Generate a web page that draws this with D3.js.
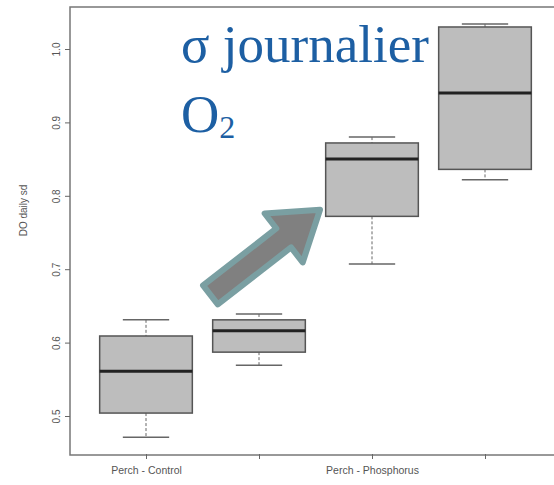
<!DOCTYPE html>
<html>
<head>
<meta charset="utf-8">
<script src="https://cdn.jsdelivr.net/npm/d3@7"></script>
<style>
  body { margin: 0; background: #fff; }
  svg { display: block; }
  .tick text { font-family: "Liberation Sans", Arial, sans-serif; fill: #555; }
</style>
</head>
<body>
<div id="chart"></div>
<script>
// groups along x (R boxplot positions 1..4), only some labels drawn
var groups = ["Perch - Control", "", "Perch - Phosphorus", ""];
var positions = [1, 2, 3, 4];
// five-number summaries
var whiskLow  = [0.471, 0.569, 0.707, 0.822];
var q1        = [0.504, 0.587, 0.772, 0.836];
var medians   = [0.561, 0.616, 0.850, 0.940];
var q3        = [0.609, 0.631, 0.872, 1.030];
var whiskHigh = [0.631, 0.639, 0.880, 1.034];
var yTicks = [0.5, 0.6, 0.7, 0.8, 0.9, 1.0];

var W = 554, H = 485;
var margin = {left: 70, top: 7, bottom: 30};

var x = d3.scaleLinear().domain([1, 4]).range([146, 485]);
var y = d3.scaleLinear().domain([0.5, 1.0]).range([416, 49]);
var yTop = y.invert(margin.top), yBot = y.invert(H - margin.bottom);

var svg = d3.select("#chart").append("svg")
    .attr("width", W).attr("height", H);

// frame
svg.append("rect")
    .attr("x", margin.left).attr("y", y(yTop))
    .attr("width", 600).attr("height", y(yBot) - y(yTop))
    .attr("fill", "none").attr("stroke", "#777").attr("stroke-width", 1.5);

var box = positions.map(function(p, i) {
    return {p: p, lo: whiskLow[i], q1: q1[i], med: medians[i], q3: q3[i], hi: whiskHigh[i]};
});
var halfW = (x(2) - x(1)) * 0.41;

var g = svg.selectAll(".box").data(box).enter().append("g").attr("class", "box");
// whiskers (dashed, like R)
g.append("line")
    .attr("x1", function(d) { return x(d.p); }).attr("x2", function(d) { return x(d.p); })
    .attr("y1", function(d) { return y(d.hi); }).attr("y2", function(d) { return y(d.q3); })
    .attr("stroke", "#666").attr("stroke-dasharray", "3,2");
g.append("line")
    .attr("x1", function(d) { return x(d.p); }).attr("x2", function(d) { return x(d.p); })
    .attr("y1", function(d) { return y(d.q1); }).attr("y2", function(d) { return y(d.lo); })
    .attr("stroke", "#666").attr("stroke-dasharray", "3,2");
// staples
["hi", "lo"].forEach(function(k) {
    g.append("line")
        .attr("x1", function(d) { return x(d.p) - halfW / 2; })
        .attr("x2", function(d) { return x(d.p) + halfW / 2; })
        .attr("y1", function(d) { return y(d[k]); })
        .attr("y2", function(d) { return y(d[k]); })
        .attr("stroke", "#666").attr("stroke-width", 1.5);
});
g.append("rect")
    .attr("x", function(d) { return x(d.p) - halfW; })
    .attr("width", halfW * 2)
    .attr("y", function(d) { return y(d.q3); })
    .attr("height", function(d) { return y(d.q1) - y(d.q3); })
    .attr("fill", "#bdbdbd").attr("stroke", "#555").attr("stroke-width", 1.5);
g.append("line")
    .attr("x1", function(d) { return x(d.p) - halfW; })
    .attr("x2", function(d) { return x(d.p) + halfW; })
    .attr("y1", function(d) { return y(d.med); })
    .attr("y2", function(d) { return y(d.med); })
    .attr("stroke", "#222").attr("stroke-width", 3);

// axes
var yAxis = d3.axisLeft(y).tickValues(yTicks).tickSize(5).tickPadding(8)
    .tickFormat(d3.format(".1f"));
var ya = svg.append("g").attr("transform", "translate(" + margin.left + ",0)").call(yAxis);
ya.select(".domain").remove();
ya.selectAll("line").attr("stroke", "#666");
ya.selectAll("text")
    .attr("font-size", 10)
    .attr("transform", "rotate(-90,-13,0)")
    .attr("x", -13).attr("dy", "0.32em").attr("text-anchor", "middle");

var xAxis = d3.axisBottom(x).tickValues(positions).tickSize(5).tickPadding(7)
    .tickFormat(function(d, i) { return groups[i]; });
var xa = svg.append("g").attr("transform", "translate(0," + y(yBot) + ")").call(xAxis);
xa.select(".domain").remove();
xa.selectAll("line").attr("stroke", "#666").attr("y1", -1).attr("y2", 4);
xa.selectAll("text").attr("font-size", 10.5);

svg.append("text")
    .attr("transform", "translate(27," + y(0.78) + ") rotate(-90)")
    .attr("text-anchor", "middle")
    .attr("font-family", "Liberation Sans, Arial, sans-serif")
    .attr("font-size", 10).attr("fill", "#555")
    .text("DO daily sd");

// annotation arrow, anchored in data units
var arrowFrom = [1.57, 0.665], arrowTo = [2.54, 0.781];
var x0 = x(arrowFrom[0]), y0 = y(arrowFrom[1]), x1 = x(arrowTo[0]), y1 = y(arrowTo[1]);
var len = Math.hypot(x1 - x0, y1 - y0), ang = Math.atan2(y1 - y0, x1 - x0) * 180 / Math.PI;
var sw = 12, hw = 31, hl = 46;
var shape = [[0, -sw], [len - hl, -sw], [len - hl, -hw], [len, 0], [len - hl, hw], [len - hl, sw], [0, sw]];
svg.append("path")
    .attr("d", d3.line()(shape) + "Z")
    .attr("transform", "translate(" + x0 + "," + y0 + ") rotate(" + ang + ")")
    .attr("fill", "#808080").attr("stroke", "#7a9fa2").attr("stroke-width", 6)
    .attr("stroke-linejoin", "round");

// title text
var title = svg.append("g").attr("font-family", "Liberation Serif, Times New Roman, serif")
    .attr("fill", "#1d5fa3");
title.append("text").attr("x", 181).attr("y", 62).attr("font-size", 53).text("σ journalier");
var o2 = title.append("text").attr("x", 181).attr("y", 132).attr("font-size", 53);
o2.append("tspan").text("O");
o2.append("tspan").attr("font-size", 32).attr("dy", 6).text("2");
</script>
</body>
</html>
